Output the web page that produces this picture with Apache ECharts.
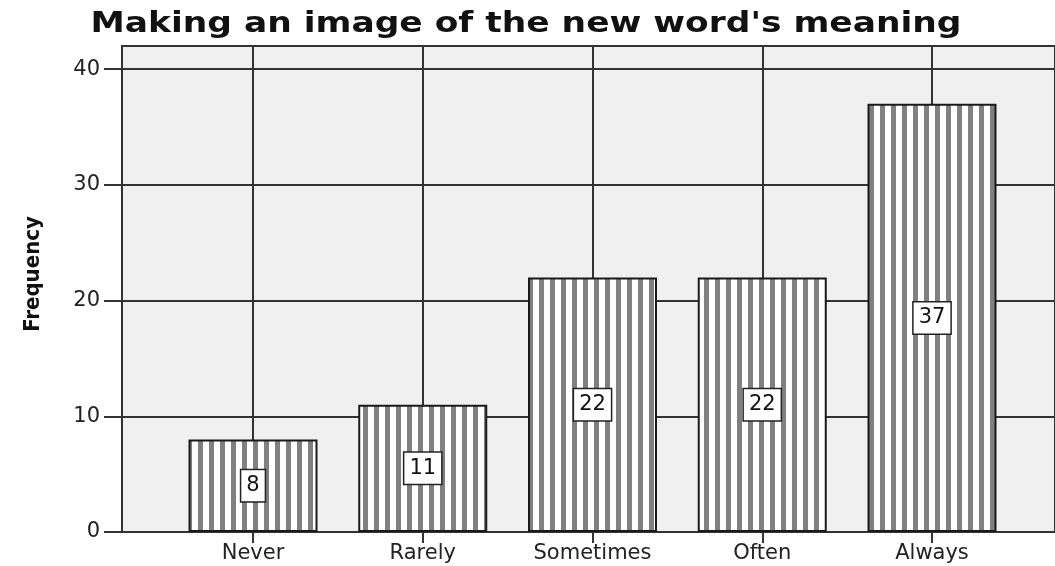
<!DOCTYPE html>
<html>
<head>
<meta charset="utf-8">
<title>word meaning image</title>
<script src="https://cdn.jsdelivr.net/npm/echarts@6/dist/echarts.min.js"></script>
<style>
  html, body { margin: 0; padding: 0; background: #fff; }
  #main { width: 1055px; height: 566px; }
</style>
</head>
<body>
<div id="main"></div>
<script>
// data
var categories = ['Never', 'Rarely', 'Sometimes', 'Often', 'Always'];
var frequency = [8, 11, 22, 22, 37];
var yTickValues = [0, 10, 20, 30, 40];
var yMax = 42;
var chartTitle = "Making an image of the new word's meaning";

// vertical stripe fill like the SPSS bar pattern
var stripe = document.createElement('canvas');
stripe.width = 11;
stripe.height = 10;
var ctx = stripe.getContext('2d');
ctx.fillStyle = '#ffffff';
ctx.fillRect(0, 0, 11, 10);
ctx.fillStyle = '#808080';
ctx.fillRect(0, 0, 5, 10);

var chart = echarts.init(document.getElementById('main'));

var lineCol = '#333';
var font = 'DejaVu Sans';

var option = {
  animation: false,
  // title drawn as text so it can be stretched like the original
  graphic: [{
    type: 'text',
    x: 526,
    y: 25,
    scaleX: 1.23,
    style: {
      text: chartTitle,
      font: 'bold 28px "DejaVu Sans"',
      fill: '#111',
      align: 'center',
      verticalAlign: 'middle'
    }
  }],
  grid: [
    // plot box with background and y grid
    { left: 122, right: -5, top: 46, bottom: 34, show: true,
      backgroundColor: '#f0f0f0', borderColor: lineCol, borderWidth: 2 },
    // bars, category centres at the ends
    { left: 253, right: 123, top: 46, bottom: 34 }
  ],
  xAxis: [
    { gridIndex: 0, type: 'value', show: false, min: 0, max: 1 },
    {
      gridIndex: 1,
      type: 'category',
      data: categories,
      boundaryGap: false,
      axisLine: { show: false },
      axisTick: { show: true, length: 11, lineStyle: { color: lineCol, width: 2 } },
      axisLabel: { fontFamily: font, fontSize: 21, color: '#222', margin: 11 },
      splitLine: { show: true, lineStyle: { color: lineCol, width: 2 } }
    }
  ],
  yAxis: [
    {
      gridIndex: 0,
      type: 'value',
      min: 0,
      max: yMax,
      interval: 10,
      name: 'Frequency',
      nameLocation: 'middle',
      nameRotate: 90,
      nameGap: 78,
      nameTextStyle: {
        fontFamily: '"DejaVu Sans Condensed", "Liberation Sans", sans-serif',
        fontWeight: 'bold', fontSize: 22, color: '#111',
        padding: [0, 0, 0, 30]
      },
      axisLine: { show: true, lineStyle: { color: lineCol, width: 2 } },
      axisTick: { show: true, length: 18, customValues: yTickValues,
        lineStyle: { color: lineCol, width: 2 } },
      axisLabel: { fontFamily: font, fontSize: 21, color: '#222', margin: 22,
        customValues: yTickValues },
      splitLine: { show: true, lineStyle: { color: lineCol, width: 2 } }
    },
    { gridIndex: 1, type: 'value', show: false, min: 0, max: yMax }
  ],
  series: [
    {
      type: 'bar',
      xAxisIndex: 1,
      yAxisIndex: 1,
      data: frequency,
      barWidth: 129,
      itemStyle: {
        color: { image: stripe, repeat: 'repeat' },
        borderColor: '#1a1a1a',
        borderWidth: 2
      },
      label: {
        show: true,
        position: 'inside',
        fontFamily: font,
        fontSize: 21,
        color: '#111',
        backgroundColor: '#fff',
        borderColor: '#222',
        borderWidth: 1.5,
        padding: [6, 5, 4, 5]
      }
    }
  ]
};

chart.setOption(option);
</script>
</body>
</html>
